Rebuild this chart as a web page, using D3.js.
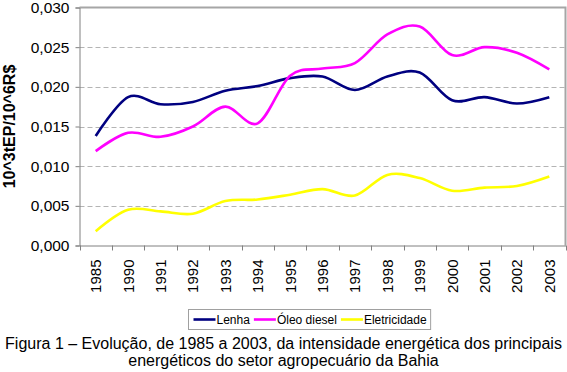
<!DOCTYPE html>
<html>
<head>
<meta charset="utf-8">
<script src="https://cdn.jsdelivr.net/npm/d3@7"></script>
<style>
  body { margin: 0; background: #ffffff; }
  svg { display: block; font-family: "Liberation Sans", Arial, sans-serif; }
</style>
</head>
<body>
<svg id="chart" width="567" height="372"></svg>
<script>
// Data
const years = ["1985", "1990", "1991", "1992", "1993", "1994", "1995", "1996",
               "1997", "1998", "1999", "2000", "2001", "2002", "2003"];
const lenha = [0.0138, 0.0187, 0.0178, 0.0181, 0.0195, 0.0201, 0.0211, 0.0213,
               0.0196, 0.0213, 0.0218, 0.0183, 0.0187, 0.0179, 0.0187];
const oleoDiesel = [0.0119, 0.0142, 0.0137, 0.0150, 0.0175, 0.0154, 0.0214, 0.0223,
                    0.0230, 0.0266, 0.0276, 0.0240, 0.0250, 0.0243, 0.0222];
const eletricidade = [0.0018, 0.0045, 0.0043, 0.0040, 0.0056, 0.0058, 0.0064, 0.0071,
                      0.0063, 0.0089, 0.0085, 0.0069, 0.0073, 0.0075, 0.0087];
const yTicks = [0, 0.005, 0.010, 0.015, 0.020, 0.025, 0.030];

const seriesList = [
    { name: "Lenha", values: lenha, color: "#000080" },
    { name: "Óleo diesel", values: oleoDiesel, color: "#ff00ff" },
    { name: "Eletricidade", values: eletricidade, color: "#ffff00" }
];

const svg = d3.select('#chart');

// Plot area bounds
const plot = { left: 79.5, right: 565.5, top: 7.5, bottom: 245.5 };

const x = d3.scaleBand()
    .domain(years)
    .range([plot.left, plot.right]);

const y = d3.scaleLinear()
    .domain([0, 0.030])
    .range([plot.bottom, plot.top]);

const fmt = d => d3.format(".3f")(d).replace(".", ",");

// Dashed grid lines
svg.append('g')
    .selectAll('line')
    .data(yTicks.filter(t => t > 0 && t < 0.030))
    .enter().append('line')
    .attr('x1', plot.left).attr('x2', plot.right)
    .attr('y1', d => Math.round(y(d)) + 0.5).attr('y2', d => Math.round(y(d)) + 0.5)
    .attr('stroke', '#b4b4b4')
    .attr('stroke-dasharray', '5,3');

// Plot area border (top / right)
svg.append('path')
    .attr('d', `M${plot.left},${plot.top}H${plot.right}V${plot.bottom}`)
    .attr('fill', 'none')
    .attr('stroke', '#a6a6a6')
    .attr('stroke-width', 2);

// Y axis
const yAxis = svg.append('g')
    .attr('transform', `translate(${plot.left},0)`)
    .call(d3.axisLeft(y).tickValues(yTicks).tickSize(4).tickPadding(6).tickFormat(fmt));
yAxis.selectAll('text')
    .style('font-size', '15.5px')
    .style('fill', '#000');

// X axis
const xAxis = svg.append('g')
    .attr('transform', `translate(0,${plot.bottom})`)
    .call(d3.axisBottom(x).tickSize(0).tickFormat(''));
xAxis.selectAll('.tick').remove();

// category boundary tick marks
svg.append('g')
    .selectAll('line')
    .data(years.concat(['end']))
    .enter().append('line')
    .attr('x1', (d, i) => Math.round(plot.left + i * x.step()) + 0.5)
    .attr('x2', (d, i) => Math.round(plot.left + i * x.step()) + 0.5)
    .attr('y1', plot.bottom)
    .attr('y2', plot.bottom + 5)
    .attr('stroke', '#808080');

// rotated year labels
svg.append('g')
    .selectAll('text')
    .data(years)
    .enter().append('text')
    .attr('transform', d => `translate(${x(d) + x.bandwidth() / 2 + 5.5},${plot.bottom + 14}) rotate(-90)`)
    .attr('text-anchor', 'end')
    .style('font-size', '15px')
    .text(d => d);

svg.selectAll('.domain, .tick line')
    .attr('stroke', '#808080');

// Series lines, smoothed like the original
const line = d3.line()
    .x((d, i) => x(years[i]) + x.bandwidth() / 2)
    .y(d => y(d))
    .curve(d3.curveCardinal.tension(0));

svg.append('g')
    .selectAll('path')
    .data(seriesList)
    .enter().append('path')
    .attr('fill', 'none')
    .attr('stroke', d => d.color)
    .attr('stroke-width', 2.6)
    .attr('stroke-linejoin', 'round')
    .attr('d', d => line(d.values));

// Y axis title
svg.append('text')
    .attr('transform', `translate(15,${(plot.top + plot.bottom) / 2}) rotate(-90)`)
    .attr('text-anchor', 'middle')
    .style('font-size', '16px')
    .style('font-weight', 'bold')
    .text('10^3tEP/10^6R$');

// Legend
const legend = svg.append('g').attr('transform', 'translate(188.5,309.5)');
const legendBox = legend.append('rect')
    .attr('height', 20)
    .attr('fill', '#fff')
    .attr('stroke', '#a0a0a0');

let cursor = 5;
seriesList.forEach(s => {
    legend.append('line')
        .attr('x1', cursor).attr('x2', cursor + 22)
        .attr('y1', 10).attr('y2', 10)
        .attr('stroke', s.color)
        .attr('stroke-width', 2.6);
    const t = legend.append('text')
        .attr('x', cursor + 23)
        .attr('y', 14.5)
        .style('font-size', '12px')
        .text(s.name);
    cursor += 23 + t.node().getComputedTextLength() + 4;
});
legendBox.attr('width', cursor);

// Caption
const caption = [
    'Figura 1 – Evolução, de 1985 a 2003, da intensidade energética dos principais',
    'energéticos do setor agropecuário da Bahia'
];
svg.append('g')
    .selectAll('text')
    .data(caption)
    .enter().append('text')
    .attr('x', 283.5)
    .attr('y', (d, i) => 349 + i * 17)
    .attr('text-anchor', 'middle')
    .style('font-size', '16px')
    .text(d => d);
</script>
</body>
</html>
